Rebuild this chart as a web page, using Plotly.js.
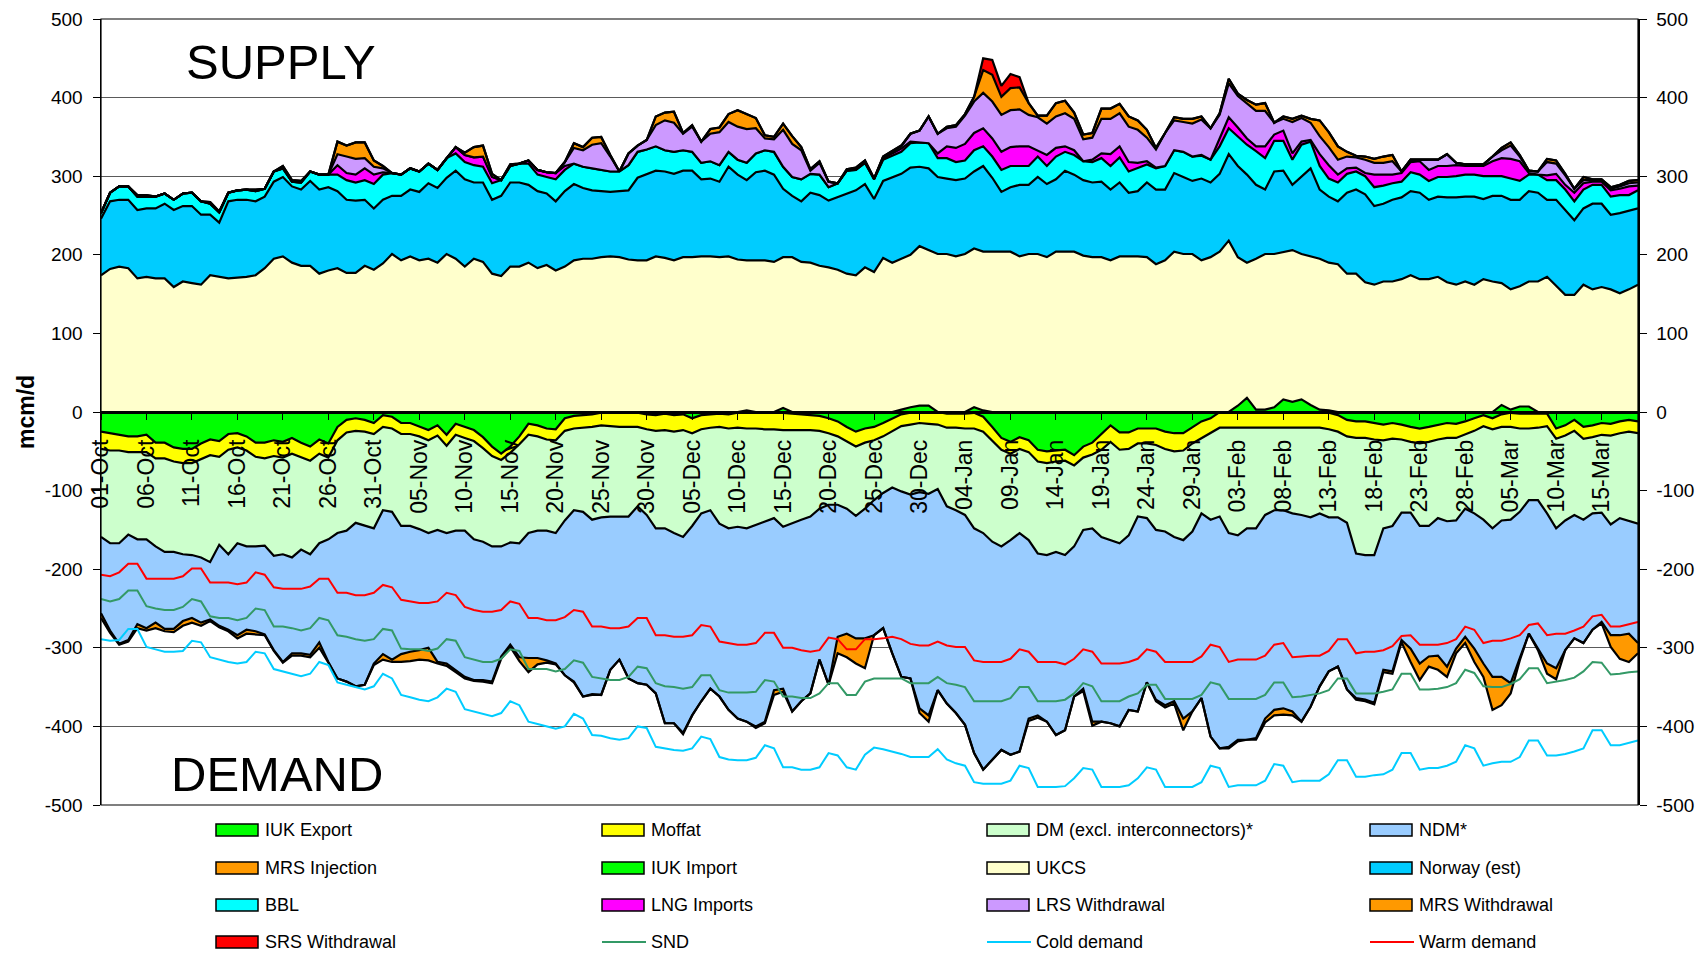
<!DOCTYPE html>
<html>
<head>
<meta charset="utf-8">
<script src="https://cdn.plot.ly/plotly-3.0.1.min.js"></script>
<style>
html,body{margin:0;padding:0;background:#ffffff;}
#chart{width:1701px;height:955px;}
</style>
</head>
<body>
<div id="chart"></div>
<script>
// ---------- categories: daily gas days 01-Oct-2008 .. 19-Mar-2009 ----------
const monthNames = ['Jan','Feb','Mar','Apr','May','Jun','Jul','Aug','Sep','Oct','Nov','Dec'];
const dates = [];
(function(){
  const d = new Date(Date.UTC(2008, 9, 1));
  for (let i = 0; i < 170; i++) {
    const dd = String(d.getUTCDate()).padStart(2,'0');
    dates.push(dd + '-' + monthNames[d.getUTCMonth()]);
    d.setUTCDate(d.getUTCDate() + 1);
  }
})();
const tickLabels = dates.filter((_, i) => i % 5 === 0);
const yTickVals = [-500,-400,-300,-200,-100,0,100,200,300,400,500];
const yTickText = ['-500','-400','-300','-200','-100','0','100','200','300','400','500'];

// ---------- SUPPLY (mcm/d, positive, stacked) ----------
const ukcs = [174,182,185,183,170,172,170,170,159,166,164,162,174,172,170,171,172,174,183,195,198,190,186,186,176,180,183,177,177,186,181,189,201,193,198,193,195,190,201,195,185,195,191,176,173,185,185,190,183,187,180,185,193,195,195,
197,198,197,194,193,193,198,196,193,197,197,198,198,197,198,194,193,193,193,191,197,197,191,190,186,184,181,176,174,184,178,196,190,195,200,211,206,201,201,198,201,208,204,204,204,204,198,201,201,197,204,204,204,199,197,
197,193,198,198,198,197,188,193,204,201,201,193,197,204,218,197,190,195,201,201,204,206,201,198,195,190,188,176,176,165,162,166,166,169,174,169,169,172,165,162,166,162,169,166,164,156,160,166,166,172,160,149,149,162,156,159,156,151,156,162];

const norway = [72,86,85,87,87,87,89,95,98,96,98,89,77,69,98,99,98,94,91,98,101,97,97,108,107,106,98,93,92,84,78,81,74,82,85,87,96,95,97,112,111,97,101,94,102,107,107,99,98,91,88,96,97,90,87,
84,82,84,88,105,110,109,110,110,110,110,98,99,96,114,108,102,112,114,111,87,78,77,89,90,85,92,102,108,106,93,98,108,108,111,101,104,98,96,97,96,98,109,94,76,82,91,88,98,93,92,103,98,96,95,
96,90,94,81,83,95,95,90,100,98,93,104,95,99,110,116,112,94,82,105,103,83,98,112,88,84,80,103,107,112,100,99,104,104,107,110,101,102,108,111,108,112,102,109,111,114,110,115,113,98,110,108,95,97,109,106,95,102,100,97];

const bbl = [7,11,17,17,17,15,15,13,13,16,17,17,14,13,11,12,13,13,10,13,11,6,9,12,19,16,21,25,23,25,31,32,29,27,27,26,25,23,25,22,22,22,20,21,20,21,24,27,21,21,28,27,26,27,28,
27,26,25,32,33,31,31,27,28,26,24,21,22,21,19,19,22,24,26,29,28,24,28,24,26,17,18,29,26,27,25,27,28,28,31,31,32,24,26,23,23,27,25,27,28,27,24,24,26,23,29,24,25,24,26,
30,30,32,27,30,23,27,30,29,32,31,29,29,35,33,38,38,43,40,39,38,32,41,34,30,23,24,24,23,23,24,23,21,20,24,23,24,25,26,27,28,28,29,25,25,27,24,21,23,25,25,26,24,24,24,24,23,23,20,23];

const lngImports = [0,0,0,0,0,0,0,0,0,0,0,0,0,0,0,0,0,0,0,0,0,0,0,0,0,0,
12,9,10,15,12,3,0,0,0,0,0,0,0,8,9,10,13,8,0,0,0,4,6,6,8,5,
0,0,0,0,0,0,0,0,0,0,0,0,0,0,0,0,0,0,0,0,0,0,0,0,0,0,0,0,0,0,0,0,0,0,
1,3,4,2,0,0,6,15,18,21,22,23,23,23,24,25,25,8,14,11,7,6,0,3,
6,15,14,12,6,4,1,0,0,0,0,1,0,10,14,11,8,6,15,8,13,8,4,2,15,17,10,7,5,4,16,14,11,11,13,17,14,14,14,14,11,11,13,19,23,25,25,2,0,6,8,6,11,8,4,4,8,8,11,6];

const lrsWithdrawal = [0,0,0,0,0,0,0,0,0,0,0,0,0,0,0,0,0,0,0,0,0,0,0,0,0,0,
14,21,20,13,10,5,0,0,0,0,0,0,0,0,0,0,0,0,0,0,0,0,0,0,0,5,
20,21,30,34,19,0,15,8,12,27,38,37,21,32,27,35,42,38,42,43,32,15,16,47,42,37,4,15,7,0,0,1,2,1,2,2,3,10,15,34,25,23,27,36,40,45,47,47,47,47,40,42,40,40,42,40,28,28,
44,45,42,45,42,30,23,42,38,38,42,45,40,30,43,40,45,45,45,15,15,40,30,22,23,23,19,15,13,17,15,15,17,2,3,2,13,8,15,3,2,2,2,6,10,17,6,3,4,17,13,12,5,4,2,2,2,3,4,4];

const mrsWithdrawal = [0,0,0,0,2,2,0,0,0,0,0,0,2,1,0,0,0,2,0,0,3,2,2,0,0,0,
16,14,21,20,8,3,0,0,0,0,0,0,0,0,3,13,14,4,0,2,0,0,0,0,0,0,6,4,9,
8,2,0,0,0,0,11,10,14,1,2,0,6,6,10,21,19,13,4,3,8,10,4,2,2,0,0,2,2,1,0,1,1,1,0,0,0,0,2,2,2,6,29,34,23,28,28,15,2,10,17,16,8,6,6,
13,13,12,13,12,10,2,0,4,4,6,4,0,2,6,3,4,8,10,0,3,4,3,5,20,19,17,6,2,4,5,8,8,0,0,0,0,0,0,0,0,0,0,0,3,4,2,0,0,4,4,2,0,4,1,1,2,2,3,3];

const srsWithdrawal = [0,0,0,0,0,0,0,0,0,0,0,0,0,0,0,0,0,0,0,0,0,0,0,0,0,0,0,0,0,0,0,0,0,0,0,0,0,0,0,0,0,0,0,0,0,0,0,0,0,0,0,0,0,0,0,
0,0,0,0,0,0,0,0,0,0,0,0,0,0,0,0,0,0,0,0,0,0,0,0,0,0,0,0,0,0,0,0,0,0,0,0,0,0,0,0,0,0,15,19,14,18,13,0,0,0,0,0,0,0,0,
0,0,0,0,0,0,0,0,0,0,0,0,0,0,0,0,0,0,0,0,0,0,0,0,0,0,0,0,0,0,0,0,0,0,0,0,0,0,0,0,0,0,0,0,0,0,0,0,0,0,0,0,0,0,0,0,0,0,0,0];

const iukImport = [0,0,0,0,0,0,0,0,0,0,0,0,0,0,0,0,0,0,0,0,0,0,0,0,0,0,0,0,0,0,0,0,0,0,0,0,0,0,0,0,0,0,0,0,0,0,0,0,0,0,0,0,0,0,0,
0,0,0,0,0,0,0,0,0,0,0,0,0,0,0,0,2,0,0,0,5,0,0,0,0,0,0,0,0,0,0,0,0,3,6,8,8,0,0,0,0,6,2,0,0,0,0,0,0,0,0,0,0,0,0,0,0,
0,0,0,0,0,0,0,0,0,0,0,0,0,8,18,3,3,6,16,13,16,9,3,2,0,0,0,0,0,0,0,0,0,0,0,0,0,0,0,0,0,0,9,3,7,7,0,0,0,0,0,0,0,0,0,0,0,0,0,0];

// ---------- DEMAND (mcm/d, negative, stacked) ----------
const iukExport = [-25,-27,-29,-31,-31,-29,-39,-39,-45,-47,-47,-40,-35,-37,-28,-27,-31,-39,-39,-36,-38,-33,-39,-44,-35,-40,-19,-10,-8,-10,-14,-4,-6,-14,-14,-18,-23,-17,-29,-15,-19,-23,-32,-44,-53,-44,-31,-15,-17,-21,-22,-8,-5,-4,-3,
-1,-1,-1,-1,-1,-3,-4,-2,-4,-3,-8,-4,-3,-2,-3,-1,-1,-1,-1,-1,-1,-2,-3,-4,-5,-8,-12,-19,-25,-21,-19,-14,-8,-3,-1,0,0,0,-2,-2,-2,-1,-6,-19,-33,-38,-32,-36,-48,-50,-49,-48,-55,-44,-39,
-28,-17,-26,-26,-21,-21,-21,-25,-27,-27,-19,-12,-8,0,0,0,0,0,0,0,0,0,0,0,0,-1,-4,-10,-12,-12,-14,-16,-14,-16,-19,-21,-19,-16,-14,-15,-12,-8,-4,-8,-3,-1,-2,-2,-2,-2,-21,-17,-10,-19,-17,-14,-15,-12,-10,-12];

const moffat = [-22,-22,-20,-20,-20,-22,-20,-20,-18,-18,-18,-20,-20,-20,-20,-18,-18,-18,-20,-20,-20,-20,-18,-18,-18,-18,-17,-16,-16,-15,-14,-15,-15,-14,-14,-13,-13,-13,-14,-14,-14,-14,-14,-12,-8,-8,-10,-14,-14,-14,-14,-16,-16,-16,-16,
-16,-17,-18,-18,-18,-19,-20,-21,-21,-20,-19,-18,-17,-17,-18,-19,-20,-20,-21,-21,-22,-21,-20,-19,-19,-19,-19,-19,-19,-18,-17,-17,-16,-15,-15,-14,-15,-16,-18,-18,-19,-20,-19,-17,-15,-15,-15,-15,-15,-15,-14,-14,-13,-14,-15,
-20,-21,-22,-21,-19,-19,-21,-22,-23,-22,-21,-21,-18,-20,-20,-20,-20,-20,-20,-20,-20,-20,-20,-20,-20,-21,-21,-21,-21,-21,-21,-20,-20,-19,-19,-19,-19,-19,-19,-18,-17,-16,-14,-14,-16,-18,-19,-19,-18,-16,-13,-13,-14,-15,-15,-15,-15,-15,-15,-15];

const dmExclInterconnectors = [-112,-118,-118,-105,-111,-111,-112,-119,-115,-116,-117,-125,-136,-112,-133,-122,-122,-114,-111,-127,-123,-132,-118,-119,-114,-104,-118,-125,-117,-120,-120,-106,-106,-117,-117,-118,-118,-120,-111,-122,-118,-125,-119,-115,-110,-114,-126,-125,-120,-116,-118,-114,-104,-107,-118,
-117,-115,-114,-114,-101,-109,-124,-125,-129,-136,-118,-107,-105,-123,-127,-126,-127,-123,-117,-113,-123,-118,-114,-110,-99,-91,-87,-85,-88,-84,-76,-72,-72,-83,-89,-88,-89,-82,-100,-105,-110,-127,-129,-129,-123,-110,-107,-112,-117,-117,-115,-120,-103,-92,-94,
-111,-125,-119,-110,-93,-95,-108,-105,-109,-114,-112,-96,-111,-113,-134,-137,-128,-128,-111,-105,-105,-109,-111,-114,-109,-112,-109,-110,-147,-149,-147,-112,-111,-93,-90,-105,-107,-100,-106,-105,-94,-105,-119,-126,-119,-118,-106,-91,-92,-111,-114,-108,-107,-103,-97,-99,-113,-108,-114,-115];

const ndm = [-97,-111,-128,-134,-108,-113,-97,-98,-98,-85,-80,-83,-73,-103,-96,-117,-106,-108,-113,-120,-137,-122,-132,-128,-126,-156,-185,-192,-208,-202,-172,-183,-188,-163,-160,-154,-146,-168,-166,-177,-186,-179,-176,-172,-140,-130,-145,-159,-162,-165,-166,-197,-218,-235,-222,
-226,-195,-182,-206,-225,-216,-210,-248,-242,-249,-241,-239,-227,-220,-231,-244,-246,-256,-255,-219,-206,-240,-231,-225,-192,-229,-168,-159,-156,-165,-172,-172,-211,-236,-234,-275,-282,-256,-251,-258,-267,-286,-301,-278,-259,-273,-278,-227,-206,-212,-233,-223,-191,-202,-246,
-235,-233,-233,-222,-248,-209,-216,-221,-209,-227,-229,-235,-276,-295,-272,-260,-269,-267,-259,-254,-252,-252,-263,-241,-220,-196,-190,-212,-184,-184,-188,-180,-185,-162,-173,-175,-166,-175,-185,-163,-163,-172,-183,-189,-199,-208,-186,-170,-189,-191,-178,-165,-157,-157,-148,-139,-141,-149,-143,-152];

const mrsInjection = [-6,-3,-1,-2,-5,-3,-7,-3,-4,-6,-6,-4,-2,-2,-2,-4,-5,-4,-1,-1,-1,-3,-3,-3,-7,-1,0,0,0,0,-2,-7,-3,-10,-12,-12,-16,-2,-3,-3,-2,-1,-2,-2,-3,-3,-5,-18,-8,-3,-1,0,-1,0,-1,
0,0,0,0,0,0,0,0,0,-2,0,0,0,0,0,0,0,-2,-2,-6,-4,0,0,0,0,0,-21,-30,-32,-38,0,0,0,0,0,-6,-8,0,0,0,0,0,0,0,0,0,0,-3,-3,0,0,0,0,-3,-5,
0,0,0,0,0,0,-2,-3,-3,-15,0,0,0,0,-2,-2,0,-2,-5,-7,-8,-5,0,0,0,0,0,0,-2,-2,-2,-3,-3,-3,-17,-21,-13,-18,-13,-6,-8,-17,-17,-42,-36,-13,-3,0,-2,-13,-14,0,0,0,0,-2,-15,-30,-36,-13];

// ---------- demand lines ----------
const snd = [-238,-241,-238,-227,-227,-247,-250,-252,-252,-248,-238,-241,-260,-262,-262,-265,-262,-250,-252,-273,-273,-275,-278,-275,-262,-265,-284,-286,-289,-291,-289,-276,-278,-301,-302,-302,-304,-301,-289,-291,-312,-315,-318,-318,-314,-302,-304,-327,-327,-327,-330,-327,-316,-319,-337,
-339,-341,-341,-337,-324,-326,-345,-349,-350,-352,-350,-335,-335,-354,-357,-357,-357,-356,-341,-343,-362,-362,-364,-364,-358,-345,-345,-360,-360,-343,-339,-339,-339,-339,-345,-345,-345,-337,-345,-347,-350,-368,-368,-368,-368,-364,-350,-350,-368,-368,-368,-366,-358,-345,-349,
-368,-368,-368,-362,-358,-347,-347,-365,-365,-365,-365,-360,-344,-347,-365,-365,-365,-365,-360,-344,-344,-363,-362,-360,-358,-354,-339,-339,-358,-358,-358,-356,-353,-333,-333,-353,-353,-352,-350,-345,-328,-332,-349,-350,-350,-346,-340,-326,-326,-345,-343,-341,-338,-330,-318,-319,-334,-333,-331,-330];

const coldDemand = [-289,-291,-290,-276,-276,-299,-302,-305,-305,-304,-291,-293,-312,-315,-318,-320,-318,-305,-307,-327,-330,-333,-336,-333,-318,-322,-344,-347,-350,-353,-349,-333,-339,-360,-363,-366,-368,-363,-352,-356,-378,-381,-384,-387,-383,-368,-373,-394,-397,-400,-403,-400,-384,-390,-411,
-412,-415,-417,-415,-400,-402,-426,-428,-430,-431,-428,-413,-416,-439,-442,-443,-443,-440,-424,-428,-452,-452,-455,-455,-452,-434,-437,-452,-455,-436,-427,-429,-432,-435,-439,-439,-439,-429,-442,-447,-450,-471,-473,-473,-473,-469,-450,-453,-477,-477,-477,-476,-466,-453,-455,
-477,-477,-477,-475,-466,-452,-455,-477,-477,-477,-477,-471,-450,-453,-477,-475,-475,-475,-469,-448,-450,-471,-469,-469,-469,-461,-443,-443,-464,-464,-462,-461,-455,-434,-434,-455,-453,-453,-450,-445,-424,-428,-450,-447,-445,-445,-439,-418,-418,-437,-437,-435,-432,-428,-405,-405,-424,-424,-421,-418];

const warmDemand = [-207,-209,-204,-193,-193,-212,-212,-212,-212,-209,-199,-199,-217,-217,-217,-219,-217,-204,-207,-223,-225,-225,-225,-222,-212,-212,-230,-230,-233,-233,-230,-220,-223,-239,-241,-243,-243,-241,-230,-233,-248,-252,-254,-254,-252,-241,-244,-262,-262,-265,-265,-261,-252,-254,-273,
-273,-275,-275,-273,-262,-262,-284,-284,-286,-286,-284,-271,-273,-292,-294,-296,-296,-294,-281,-281,-300,-300,-303,-305,-303,-287,-289,-302,-302,-289,-289,-288,-286,-289,-295,-297,-297,-292,-297,-299,-299,-316,-318,-318,-318,-314,-302,-305,-318,-318,-318,-321,-314,-302,-305,
-320,-320,-320,-318,-314,-302,-305,-318,-318,-318,-318,-311,-296,-299,-318,-315,-315,-315,-310,-296,-294,-312,-311,-310,-310,-304,-289,-289,-307,-305,-305,-303,-298,-285,-284,-296,-296,-296,-294,-289,-273,-277,-294,-291,-291,-288,-284,-271,-269,-284,-282,-282,-278,-273,-260,-258,-273,-273,-270,-267];

// ---------- styling ----------
const FONT = 'Liberation Sans, Arial, Helvetica, sans-serif';
const BORDER = {color: '#000000', width: 2.2};

function area(name, y, color, group) {
  return {type: 'scatter', mode: 'lines', name: name, x: dates, y: y,
          stackgroup: group, fillcolor: color, line: BORDER,
          hoverinfo: 'skip', showlegend: false};
}
function line(name, y, color, width, yaxis) {
  return {type: 'scatter', mode: 'lines', name: name, x: dates, y: y,
          line: {color: color, width: width}, hoverinfo: 'skip', showlegend: false,
          yaxis: yaxis || 'y'};
}

const traces = [
  area('UKCS', ukcs, '#FFFFCC', 'supply'),
  area('Norway (est)', norway, '#00CCFF', 'supply'),
  area('BBL', bbl, '#00FFFF', 'supply'),
  area('LNG Imports', lngImports, '#FF00FF', 'supply'),
  area('LRS Withdrawal', lrsWithdrawal, '#CC99FF', 'supply'),
  area('MRS Withdrawal', mrsWithdrawal, '#FF9900', 'supply'),
  area('SRS Withdrawal', srsWithdrawal, '#FF0000', 'supply'),
  area('IUK Export', iukExport, '#00FF00', 'demand'),
  area('Moffat', moffat, '#FFFF00', 'demand'),
  area('DM (excl. interconnectors)*', dmExclInterconnectors, '#CCFFCC', 'demand'),
  area('NDM*', ndm, '#99CCFF', 'demand'),
  area('MRS Injection', mrsInjection, '#FF9900', 'demand'),
  {type: 'scatter', mode: 'lines', name: 'IUK Import', x: dates, y: iukImport,
   fill: 'tozeroy', fillcolor: '#00FF00', line: BORDER, hoverinfo: 'skip', showlegend: false},
  line('SND', snd, '#339966', 2),
  line('Cold demand', coldDemand, '#00CCFF', 2),
  line('Warm demand', warmDemand, '#FF0000', 2, 'y2')
];

// ---------- manual legend (4 columns x 4 rows) ----------
const PL = 101, PR = 1638, PT = 19, PB = 805;
const px2x = p => (p - PL) / (PR - PL);
const px2y = p => (PB - p) / (PB - PT);
const legendItems = [
  ['IUK Export', '#00FF00', 'box'], ['Moffat', '#FFFF00', 'box'], ['DM (excl. interconnectors)*', '#CCFFCC', 'box'], ['NDM*', '#99CCFF', 'box'],
  ['MRS Injection', '#FF9900', 'box'], ['IUK Import', '#00FF00', 'box'], ['UKCS', '#FFFFCC', 'box'], ['Norway (est)', '#00CCFF', 'box'],
  ['BBL', '#00FFFF', 'box'], ['LNG Imports', '#FF00FF', 'box'], ['LRS Withdrawal', '#CC99FF', 'box'], ['MRS Withdrawal', '#FF9900', 'box'],
  ['SRS Withdrawal', '#FF0000', 'box'], ['SND', '#339966', 'line'], ['Cold demand', '#00CCFF', 'line'], ['Warm demand', '#FF0000', 'line']
];
const colX = [216, 602, 987, 1370];
const rowY = [830, 868, 905, 942];
const shapes = [];
const annotations = [];
legendItems.forEach((it, i) => {
  const c = i % 4, r = Math.floor(i / 4);
  const x0 = colX[c], yc = rowY[r];
  if (it[2] === 'box') {
    shapes.push({type: 'rect', xref: 'paper', yref: 'paper',
      x0: px2x(x0), x1: px2x(x0 + 42), y0: px2y(yc + 6), y1: px2y(yc - 6),
      fillcolor: it[1], line: {color: '#000000', width: 1.5}});
  } else {
    shapes.push({type: 'line', xref: 'paper', yref: 'paper',
      x0: px2x(x0), x1: px2x(x0 + 44), y0: px2y(yc), y1: px2y(yc),
      line: {color: it[1], width: 2}});
  }
  annotations.push({xref: 'paper', yref: 'paper', x: px2x(x0 + 47), y: px2y(yc),
    xanchor: 'left', yanchor: 'middle', showarrow: false, text: it[0],
    font: {family: FONT, size: 18, color: '#000000'}});
});
annotations.push({xref: 'paper', yref: 'paper', x: px2x(184), y: px2y(62), xanchor: 'left', yanchor: 'middle',
  showarrow: false, text: 'SUPPLY', font: {family: FONT, size: 49, color: '#000000'}});
annotations.push({xref: 'paper', yref: 'paper', x: px2x(169), y: px2y(774), xanchor: 'left', yanchor: 'middle',
  showarrow: false, text: 'DEMAND', font: {family: FONT, size: 49, color: '#000000'}});
shapes.push({type: 'rect', xref: 'paper', yref: 'paper', x0: 0, x1: 1, y0: 0, y1: 1,
  line: {color: '#000000', width: 1.2}, layer: 'above'});

const layout = {
  width: 1701, height: 955,
  margin: {l: PL, r: 1701 - PR, t: PT, b: 955 - PB, pad: 0},
  paper_bgcolor: '#ffffff', plot_bgcolor: '#ffffff',
  font: {family: FONT, size: 18, color: '#000000'},
  showlegend: false, hovermode: false,
  xaxis: {
    type: 'category', range: [0, dates.length - 1],
    anchor: 'free', position: 0.5, side: 'bottom',
    showline: true, linecolor: '#000000', linewidth: 2.5,
    ticks: 'outside', ticklen: 6, tickwidth: 1, tickcolor: '#000000',
    tickmode: 'array', tickvals: tickLabels, ticktext: tickLabels,
    tickangle: -90, ticklabelstandoff: 11,
    tickfont: {family: FONT, size: 23, color: '#000000'},
    showgrid: false, zeroline: false, automargin: false, fixedrange: true
  },
  yaxis: {
    range: [-500, 500], tickmode: 'array', tickvals: yTickVals, ticktext: yTickText,
    ticks: 'outside', ticklen: 7, tickcolor: '#000000', tickwidth: 1,
    showline: true, linecolor: '#000000', linewidth: 1.5,
    showgrid: true, gridcolor: '#5a5a5a', gridwidth: 1, zeroline: false,
    tickfont: {family: FONT, size: 19, color: '#000000'}, ticklabelstandoff: 6,
    title: {text: 'mcm/d', standoff: 3, font: {family: FONT, size: 23, color: '#000000', weight: 'bold'}},
    automargin: false, fixedrange: true
  },
  yaxis2: {
    overlaying: 'y', side: 'right', range: [-500, 500],
    tickmode: 'array', tickvals: yTickVals, ticktext: yTickText,
    ticks: 'outside', ticklen: 7, tickcolor: '#000000', tickwidth: 1,
    showline: true, linecolor: '#000000', linewidth: 1.5,
    showgrid: false, zeroline: false, ticklabelstandoff: 6,
    tickfont: {family: FONT, size: 19, color: '#000000'},
    automargin: false, fixedrange: true
  },
  shapes: shapes,
  annotations: annotations
};

Plotly.newPlot('chart', traces, layout, {staticPlot: true, displayModeBar: false});
</script>
</body>
</html>
